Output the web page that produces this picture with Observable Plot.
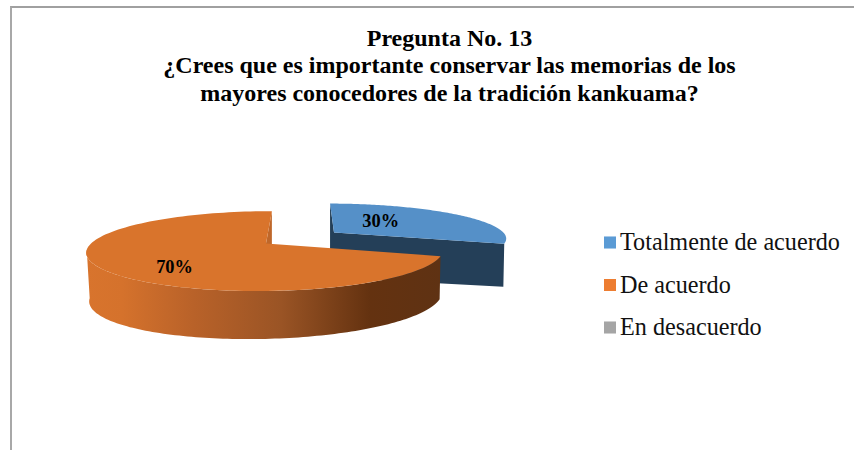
<!DOCTYPE html>
<html><head><meta charset="utf-8">
<script src="https://cdn.jsdelivr.net/npm/d3@7"></script>
<script src="https://cdn.jsdelivr.net/npm/@observablehq/plot@0.6"></script>
<style>
html,body{margin:0;padding:0;background:#fff;overflow:hidden}
body{width:854px;height:450px;position:relative}
#frame{position:absolute;left:10px;top:6px;right:0;bottom:0;border-left:2px solid #a8a8a8;border-top:2px solid #a0a0a0;pointer-events:none}
#title{height:110px;box-sizing:border-box;padding-top:24.5px;text-align:center;width:899px;margin-left:0;font:bold 24px/27.6px "Liberation Serif",serif;color:#000;position:relative}
#plot svg{display:block}
</style></head><body>
<div id="frame"></div>
<div id="title">Pregunta No. 13<br>¿Crees que es importante conservar las memorias de los<br>mayores conocedores de la tradición kankuama?</div>
<div id="plot"></div>
<script>
const categories = ["Totalmente de acuerdo", "De acuerdo", "En desacuerdo"];
const values = [30, 70, 0];
const labels = ["30%", "70%", ""];
const legendColors = ["#5b9bd5", "#ed7d31", "#a5a5a5"];
const topColors = ["#5590c8", "#d9742c", "#a5a5a5"];

// Layout of the tilted, exploded pie (view parameters, not data)
const views = [
  {cx:333.5, cy:232, B:169.8, A:33, p:.14, sx:4.5,  t:.5, lu:.30,  lv:-.38},
  {cx:265.5, cy:243, B:175, A:38.5, p:.19, sx:-7, t:0, lu:-.445, lv:.557}
];
const project = (o, u, v) => {
  const k = 1 - o.p * v;
  return {x: o.cx + (o.B * u + o.sx * v) / k, y: o.cy + (o.A * v + o.t * u) / k};
};
const polar = (o, a) => project(o, Math.sin(a), -Math.cos(a));
const drop = (o, a) => {
  const u = Math.sin(a), v = -Math.cos(a), q = polar(o, a);
  return {x: q.x + 1 - 2 * u, y: q.y + 45 + 3 * v - 3 * u};
};
const arcs = d3.pie().sort(null)(values);
const steps = (a0, a1) => d3.range(0, 121).map(i => a0 + (a1 - a0) * i / 120);

const [blue, orange] = arcs;
const vb = views[0], vo = views[1];
const rad = Math.PI / 180;

// blue slice: inner walls, then its top face
const bTL = polar(vb, blue.startAngle), bTR = polar(vb, blue.endAngle), bBR = drop(vb, blue.endAngle);
const bCenter = project(vb, 0, 0);
const bVB = {x: bTL.x, y: bCenter.y + 45};
const blueWall = [bTL, {x: bTL.x, y: bTL.y + 45}, bVB, bBR, bTR, bCenter];
const blueTop = [bCenter, ...steps(blue.startAngle, blue.endAngle).map(a => polar(vb, a))];

// orange slice: outer wall (up to the left silhouette), inner cut, top face
const oRim = steps(orange.startAngle, 261 * rad);
const orangeWall = [...oRim.map(a => polar(vo, a)), ...oRim.slice().reverse().map(a => drop(vo, a))];
const oEnd = polar(vo, orange.endAngle), oCenter = project(vo, 0, 0);
const orangeCut = [oEnd, {x: oEnd.x, y: oEnd.y + 45}, {x: oEnd.x, y: oCenter.y + 45}, oCenter];
const orangeTop = [oCenter, ...steps(orange.startAngle, orange.endAngle).map(a => polar(vo, a))];

const poly = (pts, fill) => Plot.line([...pts, pts[0]], {x: "x", y: "y", fill, stroke: "none", curve: "linear"});
const defs = () => {
  const svg = d3.create("svg:defs");
  const g = svg.append("linearGradient").attr("id", "wallGrad").attr("x1", 0).attr("x2", 1).attr("y1", 0).attr("y2", 0);
  [[0, "#d8742d"], [.10, "#d5722c"], [.30, "#b96229"], [.55, "#9a5425"], [.80, "#643210"], [1, "#5f3213"]]
    .forEach(([o, c]) => g.append("stop").attr("offset", o).attr("stop-color", c));
  return svg.node();
};

const labelData = views.map((o, i) => ({...project(o, o.lu, o.lv), text: labels[i]}));
const legendData = categories.map((name, i) => ({name, color: legendColors[i], i}));
const legendY = d => 242 + d.i * 42.5;

const chart = Plot.plot({
  width: 854, height: 340, margin: 0,
  x: {domain: [0, 854], axis: null},
  y: {domain: [450, 110], axis: null},
  style: {background: "transparent"},
  marks: [
    defs,
    poly(blueWall, "#243f58"),
    poly(blueTop, topColors[0]),
    poly(orangeCut, "#bf672a"),
    poly(orangeWall, "url(#wallGrad)"),
    poly(orangeTop, topColors[1]),
    Plot.text(labelData, {x: "x", y: "y", text: "text", fontFamily: "Liberation Serif", fontWeight: "bold", fontSize: 18.4, fill: "#000"}),
    Plot.dot(legendData, {x: () => 609.5, y: legendY, symbol: "square", r: 6.8, fill: "color", stroke: "none"}),
    Plot.text(legendData, {x: () => 619.5, y: legendY, text: "name", textAnchor: "start", fontFamily: "Liberation Serif", fontSize: 24.2, fill: "#111"})
  ]
});
document.getElementById("plot").append(chart);
</script>
</body></html>
